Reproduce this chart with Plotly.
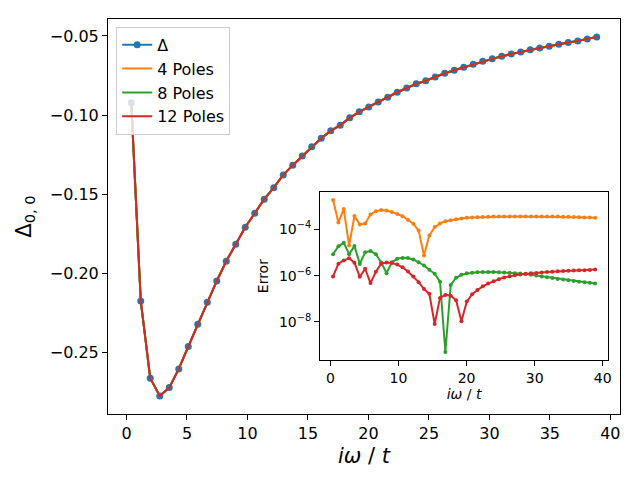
import numpy as np
import plotly.graph_objects as go

# Matsubara frequencies (beta = 8)
omega_n = [
    0.393, 1.178, 1.963, 2.749, 3.534, 4.320, 5.105, 5.890, 6.676, 7.461,
    8.247, 9.032, 9.817, 10.603, 11.388, 12.174, 12.959, 13.744, 14.530, 15.315,
    16.101, 16.886, 17.671, 18.457, 19.242, 20.028, 20.813, 21.598, 22.384, 23.169,
    23.955, 24.740, 25.525, 26.311, 27.096, 27.882, 28.667, 29.452, 30.238, 31.023,
    31.809, 32.594, 33.379, 34.165, 34.950, 35.736, 36.521, 37.306, 38.092, 38.877,
]

# Delta_{0,0}(i omega_n); the 4/8/12 pole fits lie on top of it at this scale
delta = [
    -0.0922, -0.2175, -0.2664, -0.2776, -0.2723, -0.2605, -0.2464, -0.2322, -0.2183, -0.2049,
    -0.1924, -0.1817, -0.1709, -0.1621, -0.1532, -0.1459, -0.1379, -0.1317, -0.1259, -0.1200,
    -0.1147, -0.1100, -0.1064, -0.1018, -0.0980, -0.0949, -0.0917, -0.0888, -0.0856, -0.0829,
    -0.0803, -0.0783, -0.0759, -0.0736, -0.0717, -0.0698, -0.0679, -0.0660, -0.0645, -0.0628,
    -0.0614, -0.0601, -0.0588, -0.0576, -0.0565, -0.0552, -0.0542, -0.0532, -0.0519, -0.0506,
]

# log10 of the fit error
log_err_4 = [
    -2.73, -3.70, -3.12, -4.70, -3.42, -3.79, -3.74, -3.35, -3.21, -3.16,
    -3.18, -3.25, -3.33, -3.43, -3.58, -3.75, -4.05, -5.13, -4.26, -3.90,
    -3.74, -3.65, -3.60, -3.56, -3.53, -3.50, -3.48, -3.47, -3.46, -3.45,
    -3.44, -3.44, -3.44, -3.44, -3.44, -3.44, -3.44, -3.44, -3.44, -3.44,
    -3.44, -3.44, -3.44, -3.45, -3.45, -3.46, -3.47, -3.48, -3.49, -3.50,
]
log_err_8 = [
    -5.07, -4.73, -4.58, -5.07, -4.72, -5.49, -4.99, -4.93, -5.07, -5.43,
    -5.89, -5.42, -5.27, -5.23, -5.24, -5.30, -5.42, -5.56, -5.74, -5.92,
    -6.26, -9.30, -6.40, -6.09, -5.96, -5.90, -5.87, -5.85, -5.84, -5.84,
    -5.84, -5.85, -5.86, -5.87, -5.89, -5.91, -5.93, -5.96, -5.99, -6.03,
    -6.07, -6.10, -6.14, -6.17, -6.20, -6.23, -6.26, -6.28, -6.31, -6.34,
]
log_err_12 = [
    -6.03, -5.48, -5.34, -5.25, -5.44, -6.05, -5.70, -6.32, -5.83, -5.48,
    -5.43, -5.45, -5.52, -5.64, -5.82, -6.04, -6.28, -6.58, -6.78, -8.09,
    -6.96, -6.83, -6.87, -7.06, -7.97, -7.12, -6.80, -6.62, -6.46, -6.34,
    -6.24, -6.15, -6.08, -6.02, -5.98, -5.95, -5.92, -5.90, -5.88, -5.86,
    -5.84, -5.83, -5.81, -5.80, -5.79, -5.78, -5.77, -5.76, -5.75, -5.73,
]

BLUE, ORANGE, GREEN, RED = "#1f77b4", "#ff7f0e", "#2ca02c", "#d62728"
FONT = "DejaVu Sans"

fig = go.Figure()
fig.add_trace(go.Scatter(
    x=omega_n, y=delta, mode="lines+markers", name="Δ",
    line=dict(color=BLUE, width=2), marker=dict(size=7, color=BLUE),
))
for name, color in [("4 Poles", ORANGE), ("8 Poles", GREEN), ("12 Poles", RED)]:
    fig.add_trace(go.Scatter(
        x=omega_n, y=delta, mode="lines", name=name,
        line=dict(color=color, width=2),
    ))

for log_err, color in [(log_err_4, ORANGE), (log_err_8, GREEN), (log_err_12, RED)]:
    fig.add_trace(go.Scatter(
        x=omega_n, y=10 ** np.array(log_err), mode="lines+markers",
        line=dict(color=color, width=2), marker=dict(size=4, color=color),
        xaxis="x2", yaxis="y2", showlegend=False,
    ))

axis_style = dict(
    showline=True, mirror=True, linecolor="black", linewidth=1,
    ticks="outside", ticklen=5, tickcolor="black", tickwidth=1,
    showgrid=False, zeroline=False,
)

# the page body adds 8px on the left and top, so the margins make up for it
fig.update_layout(
    width=640, height=480,
    margin=dict(l=100, r=28, t=11, b=74),
    paper_bgcolor="white", plot_bgcolor="white",
    font=dict(family=FONT, size=16, color="black"),
    xaxis=dict(
        axis_style, domain=[0, 1], range=[-1.53, 40.8],
        tickvals=[0, 5, 10, 15, 20, 25, 30, 35, 40],
        title=dict(text="<i>iω</i> / <i>t</i>", font=dict(size=21), standoff=6),
    ),
    yaxis=dict(
        axis_style, range=[-0.289, -0.0393],
        tickvals=[-0.25, -0.20, -0.15, -0.10, -0.05], tickformat=".2f",
        title=dict(text="Δ<sub>0, 0</sub>", font=dict(size=21), standoff=12),
    ),
    xaxis2=dict(
        axis_style, domain=[0.414, 0.977], anchor="y2", range=[-1.53, 40.8],
        tickvals=[0, 10, 20, 30, 40], tickfont=dict(size=14),
        title=dict(text="<i>iω</i> / <i>t</i>", font=dict(size=14), standoff=4),
    ),
    yaxis2=dict(
        axis_style, domain=[0.137, 0.561], anchor="x2", type="log",
        range=[-9.64, -2.40],
        tickvals=[1e-8, 1e-6, 1e-4],
        ticktext=["10<sup>−8</sup>", "10<sup>−6</sup>", "10<sup>−4</sup>"],
        tickfont=dict(size=14),
        title=dict(text="Error", font=dict(size=14), standoff=6),
    ),
    legend=dict(
        x=0.016, y=0.98, xanchor="left", yanchor="top",
        bgcolor="rgba(255,255,255,0.8)", bordercolor="#cccccc", borderwidth=1,
        font=dict(size=16),
    ),
)

fig.write_html("out.html")
